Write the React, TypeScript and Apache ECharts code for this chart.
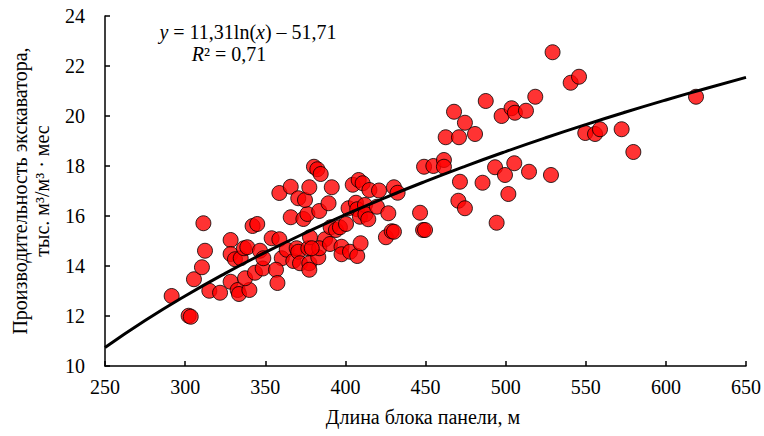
import React, { useEffect, useRef } from "react";
import * as echarts from "echarts";

const xTicks = [250, 300, 350, 400, 450, 500, 550, 600, 650];
const yTicks = [10, 12, 14, 16, 18, 20, 22, 24];

// Измеренные точки: длина блока панели, м
const blockLength = [
  291.6, 302.2, 303.5, 305.5, 310.5, 311.4, 312.4, 315.1, 321.8, 328.4,
  328.4, 331.1, 334.7, 336.7, 338.8, 328.4, 332.8, 333.6, 340.1, 337.4,
  343.6, 348.4, 346.7, 348.8, 342.1, 345.0, 354.0, 358.8, 360.3, 363.4,
  367.5, 369.6, 370.6, 371.7, 376.9, 377.5, 383.1, 356.7, 357.6, 377.5,
  377.9, 387.3, 383.7, 390.4, 397.6, 397.6, 402.9, 407.4, 409.5, 379.0,
  365.9, 373.8, 376.3, 383.7, 389.5, 390.8, 394.1, 396.6, 400.4, 402.0,
  406.6, 407.4, 409.1, 412.2, 412.5, 414.3, 419.7, 426.8, 425.3, 428.9,
  430.3, 446.6, 448.5, 449.7, 358.8, 365.9, 370.6, 374.8, 377.5, 380.4,
  382.5, 384.6, 391.5, 404.6, 408.3, 410.8, 415.0, 421.0, 430.3, 432.6,
  449.1, 454.9, 461.5, 461.5, 462.6, 467.8, 470.9, 471.5, 470.5, 474.6,
  474.6, 480.9, 485.6, 487.6, 493.4, 494.4, 497.5, 499.6, 501.7, 503.7,
  505.4, 505.8, 512.7, 514.6, 518.5, 528.3, 529.3, 540.6, 545.8, 549.7,
  555.8, 558.9, 572.4, 579.7, 618.8,
];

// Производительность экскаватора, тыс. м³/м³·мес
const productivity = [
  12.8, 12.01, 11.97, 13.47, 13.95, 15.71, 14.61, 13.01, 12.93, 15.04,
  14.48, 14.27, 14.31, 14.71, 14.75, 13.37, 13.04, 12.88, 13.04, 13.51,
  13.73, 13.9, 14.61, 14.31, 15.6, 15.68, 15.11, 15.07, 14.31, 14.65,
  14.2, 14.71, 14.57, 14.11, 14.71, 14.11, 14.35, 13.85, 13.32, 13.85,
  15.15, 15.07, 14.71, 14.88, 14.77, 14.47, 14.57, 14.4, 14.91, 14.71,
  15.95, 15.88, 16.08, 16.2, 16.51, 15.55, 15.44, 15.55, 15.68, 16.31,
  16.53, 16.27, 15.97, 16.44, 16.07, 15.87, 16.37, 16.11, 15.15, 15.39,
  15.37, 16.13, 15.44, 15.44, 16.92, 17.17, 16.71, 16.64, 17.15, 17.97,
  17.87, 17.68, 17.15, 17.25, 17.44, 17.31, 17.04, 17.02, 17.15, 16.93,
  17.97, 18.0, 18.24, 17.97, 19.15, 20.17, 19.15, 17.37, 16.61, 16.31,
  19.73, 19.28, 17.33, 20.6, 17.95, 15.73, 20.0, 17.64, 16.88, 20.31,
  18.11, 20.13, 20.21, 17.77, 20.77, 17.64, 22.55, 21.33, 21.57, 19.32,
  19.28, 19.47, 19.47, 18.56, 20.77,
];

// Линия тренда, как подписано на графике: y = a·ln(x) + b
const trendA = 11.31;
const trendB = -51.71;
const trendX = [250, 275, 300, 325, 350, 375, 400, 425, 450, 475, 500, 525, 550, 575, 600, 625, 650];

const FONT = "'Liberation Serif', 'Times New Roman', serif";

export default function App() {
  const ref = useRef<HTMLDivElement>(null);

  useEffect(() => {
    if (!ref.current) return;
    const chart = echarts.init(ref.current, undefined, { renderer: "svg" });
    const points = blockLength.map((x, i) => [x, productivity[i]]);
    const trend = trendX.map((x) => [x, trendA * Math.log(x) + trendB]);

    chart.setOption({
      animation: false,
      backgroundColor: "#ffffff",
      grid: { left: 105, right: 18, top: 16, bottom: 70, containLabel: false },
      xAxis: {
        type: "value",
        min: xTicks[0],
        max: xTicks[xTicks.length - 1],
        interval: 50,
        axisLine: { show: true, lineStyle: { color: "#000", width: 1.5 } },
        axisTick: { show: true, inside: true, length: 5, lineStyle: { color: "#000", width: 1.5 } },
        axisLabel: { color: "#000", fontFamily: FONT, fontSize: 20, margin: 11 },
        splitLine: { show: false },
      },
      yAxis: {
        type: "value",
        min: yTicks[0],
        max: yTicks[yTicks.length - 1],
        interval: 2,
        axisLine: { show: true, lineStyle: { color: "#000", width: 1.5 } },
        axisTick: { show: true, inside: true, length: 5, lineStyle: { color: "#000", width: 1.5 } },
        axisLabel: { color: "#000", fontFamily: FONT, fontSize: 20, margin: 20 },
        splitLine: { show: false },
      },
      graphic: [
        {
          type: "text",
          x: 31,
          y: 191,
          rotation: Math.PI / 2,
          style: {
            text: "Производительность экскаватора,\nтыс. м³/м³ · мес",
            font: `20px ${FONT}`,
            fill: "#000",
            align: "center",
            verticalAlign: "middle",
            lineHeight: 22,
          },
        },
        {
          type: "text",
          x: 423,
          y: 417,
          style: {
            text: "Длина блока панели, м",
            font: `20px ${FONT}`,
            fill: "#000",
            align: "center",
            verticalAlign: "middle",
          },
        },
        {
          type: "text",
          x: 248,
          y: 32,
          style: {
            text: "{i|y} = 11,31ln({i|x}) – 51,71",
            font: `20px ${FONT}`,
            fill: "#000",
            align: "center",
            verticalAlign: "middle",
            rich: {
              i: { fontStyle: "italic", fontFamily: FONT, fontSize: 20 },
            },
          },
        },
        {
          type: "text",
          x: 229,
          y: 54,
          style: {
            text: "{i|R}² = 0,71",
            font: `20px ${FONT}`,
            fill: "#000",
            align: "center",
            verticalAlign: "middle",
            rich: {
              i: { fontStyle: "italic", fontFamily: FONT, fontSize: 20 },
            },
          },
        },
      ],
      series: [
        {
          type: "scatter",
          data: points,
          symbol: "circle",
          symbolSize: 15,
          itemStyle: { color: "#ff0000", borderColor: "#000", borderWidth: 1 },
          z: 2,
        },
        {
          type: "line",
          data: trend,
          smooth: true,
          showSymbol: false,
          symbol: "none",
          lineStyle: { color: "#000", width: 3 },
          z: 3,
        },
      ],
    });
    return () => chart.dispose();
  }, []);

  return (
    <div
      ref={ref}
      style={{ position: "fixed", left: 0, top: 0, width: 764, height: 436 }}
    />
  );
}
